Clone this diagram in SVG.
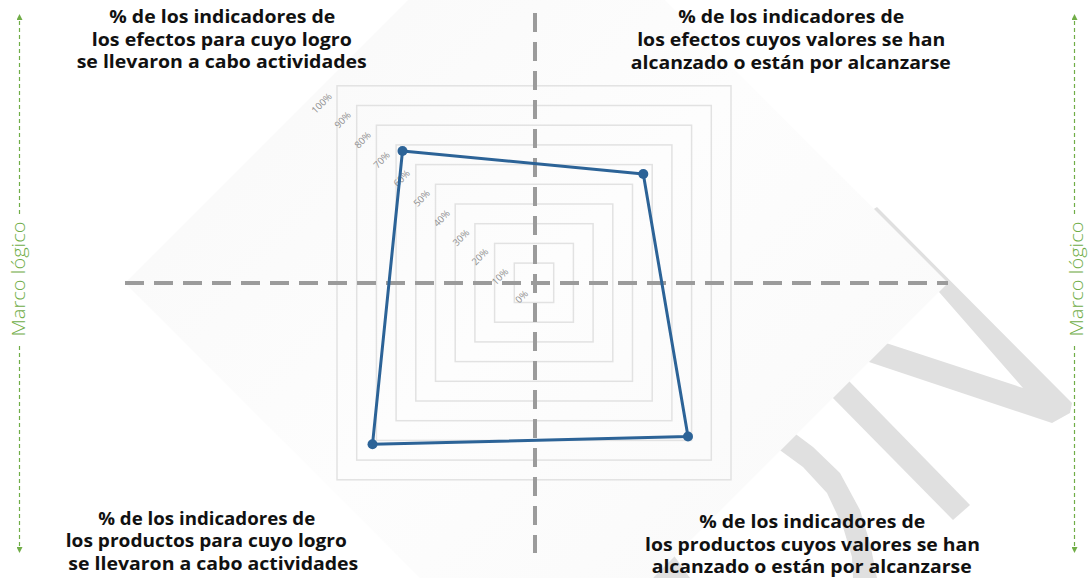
<svg xmlns="http://www.w3.org/2000/svg" width="1089" height="578" viewBox="0 0 1089 578">
<style>
.grid{fill:none;stroke:#e2e2e2;stroke-width:1.5}
.pct{font-family:"Open Sans","Liberation Sans",sans-serif;font-size:9.5px;fill:#8f8f8f;text-anchor:middle}
.axis{stroke:#9b9b9b;stroke-width:4;stroke-dasharray:19 10;fill:none}
.title{font-family:"Open Sans","Liberation Sans",sans-serif;font-size:18px;font-weight:bold;fill:#111;text-anchor:middle}
.side{font-family:"Open Sans","Liberation Sans",sans-serif;font-size:19px;font-weight:300;fill:#70ad47;text-anchor:middle}
.sline{stroke:#70ad47;stroke-width:1.2;stroke-dasharray:4 3;fill:none}
.wm{fill:#e0e0e0}
.series{fill:none;stroke:#2c6397;stroke-width:3;stroke-linejoin:round}
.dot{fill:#2c6397}
</style>
<defs>
<linearGradient id="dg" x1="0" y1="0" x2="1" y2="1">
<stop offset="0" stop-color="#f7f7f7"/>
<stop offset="0.5" stop-color="#fdfdfd"/>
<stop offset="1" stop-color="#f8f8f8"/>
</linearGradient>
<marker id="ah" viewBox="0 0 10 10" refX="5" refY="5" markerWidth="6" markerHeight="6" orient="auto-start-reverse" markerUnits="userSpaceOnUse">
<path d="M0,0 L10,5 L0,10 Z" fill="#70ad47"/>
</marker>
</defs>
<rect width="1089" height="578" fill="#ffffff"/>
<g id="watermark">
<polygon class="wm" points="869,212 877,207 1072,403 1070,413 1052,423 863,360 883,342 1023,388"/>
<polygon class="wm" points="848,380 970,505 953,520 830,395"/>
<polygon class="wm" points="793,432 813,447 840,473 860,510 870,543 877,578 853,578 852,557 843,527 827,493 803,467 777,448"/>
<polygon class="wm" points="653,578 670,550 690,578"/>
</g>
<polygon id="backdrop" points="125,283 536.5,-128.5 948,283 536.5,694.5" fill="url(#dg)"/>
<g id="grid">
<rect class="grid" x="514.3" y="263.1" width="39.4" height="39.4"/>
<rect class="grid" x="494.6" y="243.4" width="78.8" height="78.8"/>
<rect class="grid" x="474.9" y="223.7" width="118.2" height="118.2"/>
<rect class="grid" x="455.2" y="204" width="157.6" height="157.6"/>
<rect class="grid" x="435.5" y="184.3" width="197" height="197"/>
<rect class="grid" x="415.8" y="164.6" width="236.4" height="236.4"/>
<rect class="grid" x="396.1" y="144.9" width="275.8" height="275.8"/>
<rect class="grid" x="376.4" y="125.2" width="315.2" height="315.2"/>
<rect class="grid" x="356.7" y="105.5" width="354.6" height="354.6"/>
<rect class="grid" x="337" y="85.8" width="394" height="394"/>
</g>
<g id="scale-labels">
<text class="pct" transform="translate(521.7,296.7) rotate(-45)" dy="3.3">0%</text>
<text class="pct" transform="translate(500,276.7) rotate(-45)" dy="3.3">10%</text>
<text class="pct" transform="translate(480,256.7) rotate(-45)" dy="3.3">20%</text>
<text class="pct" transform="translate(461,237.7) rotate(-45)" dy="3.3">30%</text>
<text class="pct" transform="translate(441.7,218.3) rotate(-45)" dy="3.3">40%</text>
<text class="pct" transform="translate(421.7,198.3) rotate(-45)" dy="3.3">50%</text>
<text class="pct" transform="translate(401.7,178.3) rotate(-45)" dy="3.3">60%</text>
<text class="pct" transform="translate(381.7,160) rotate(-45)" dy="3.3">70%</text>
<text class="pct" transform="translate(362.7,140) rotate(-45)" dy="3.3">80%</text>
<text class="pct" transform="translate(342.7,120) rotate(-45)" dy="3.3">90%</text>
<text class="pct" transform="translate(321.7,103.3) rotate(-45)" dy="3.3">100%</text>
</g>
<g id="connectors">
<line class="axis" x1="125" y1="283" x2="948" y2="283"/>
<line class="axis" x1="535" y1="13" x2="535" y2="553"/>
<polygon class="series" points="402.5,151 643.3,174 688,436.5 372.5,444.3"/>
<line class="sline" x1="19.5" y1="214" x2="19.5" y2="17" marker-end="url(#ah)"/>
<line class="sline" x1="19.5" y1="346" x2="19.5" y2="550" marker-end="url(#ah)"/>
<line class="sline" x1="1074.5" y1="214" x2="1074.5" y2="17" marker-end="url(#ah)"/>
<line class="sline" x1="1074.5" y1="346" x2="1074.5" y2="550" marker-end="url(#ah)"/>
</g>
<g id="points">
<circle class="dot" cx="402.5" cy="151" r="5"/>
<circle class="dot" cx="643.3" cy="174" r="5"/>
<circle class="dot" cx="688" cy="436.5" r="5"/>
<circle class="dot" cx="372.5" cy="444.3" r="5"/>
</g>
<g id="label-top-left">
<text class="title" x="222.3" y="23.3" textLength="226" lengthAdjust="spacingAndGlyphs">% de los indicadores de</text>
<text class="title" x="221.8" y="45.7" textLength="260" lengthAdjust="spacingAndGlyphs">los efectos para cuyo logro</text>
<text class="title" x="221.7" y="68.3" textLength="290" lengthAdjust="spacingAndGlyphs">se llevaron a cabo actividades</text>
</g>
<g id="label-top-right">
<text class="title" x="791.2" y="22.9" textLength="226" lengthAdjust="spacingAndGlyphs">% de los indicadores de</text>
<text class="title" x="791.2" y="46" textLength="308" lengthAdjust="spacingAndGlyphs">los efectos cuyos valores se han</text>
<text class="title" x="790.8" y="69" textLength="320" lengthAdjust="spacingAndGlyphs">alcanzado o están por alcanzarse</text>
</g>
<g id="label-bottom-left">
<text class="title" x="206.7" y="525" textLength="217" lengthAdjust="spacingAndGlyphs">% de los indicadores de</text>
<text class="title" x="206.3" y="546.7" textLength="281" lengthAdjust="spacingAndGlyphs">los productos para cuyo logro</text>
<text class="title" x="213.3" y="570" textLength="290" lengthAdjust="spacingAndGlyphs">se llevaron a cabo actividades</text>
</g>
<g id="label-bottom-right">
<text class="title" x="812.2" y="528.3" textLength="226" lengthAdjust="spacingAndGlyphs">% de los indicadores de</text>
<text class="title" x="812.5" y="551" textLength="335" lengthAdjust="spacingAndGlyphs">los productos cuyos valores se han</text>
<text class="title" x="811.7" y="573.3" textLength="320" lengthAdjust="spacingAndGlyphs">alcanzado o están por alcanzarse</text>
</g>
<g id="side-left">
<text class="side" transform="translate(25,279) rotate(-90)" textLength="115" lengthAdjust="spacingAndGlyphs">Marco lógico</text>
</g>
<g id="side-right">
<text class="side" transform="translate(1083,279) rotate(-90)" textLength="115" lengthAdjust="spacingAndGlyphs">Marco lógico</text>
</g>
</svg>
